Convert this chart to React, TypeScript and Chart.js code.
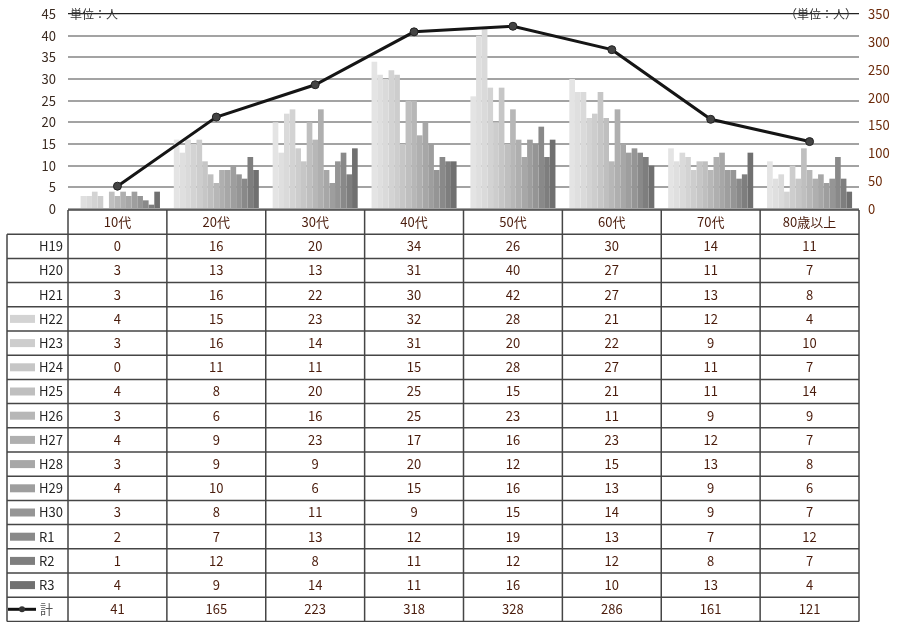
import React, { useEffect, useRef } from "react";
import { Chart, registerables } from "chart.js";

Chart.register(...registerables);

const categories = ["10代", "20代", "30代", "40代", "50代", "60代", "70代", "80歳以上"];
const seriesNames = ["H19", "H20", "H21", "H22", "H23", "H24", "H25", "H26", "H27", "H28", "H29", "H30", "R1", "R2", "R3"];

const h19 = [0, 16, 20, 34, 26, 30, 14, 11];
const h20 = [3, 13, 13, 31, 40, 27, 11, 7];
const h21 = [3, 16, 22, 30, 42, 27, 13, 8];
const h22 = [4, 15, 23, 32, 28, 21, 12, 4];
const h23 = [3, 16, 14, 31, 20, 22, 9, 10];
const h24 = [0, 11, 11, 15, 28, 27, 11, 7];
const h25 = [4, 8, 20, 25, 15, 21, 11, 14];
const h26 = [3, 6, 16, 25, 23, 11, 9, 9];
const h27 = [4, 9, 23, 17, 16, 23, 12, 7];
const h28 = [3, 9, 9, 20, 12, 15, 13, 8];
const h29 = [4, 10, 6, 15, 16, 13, 9, 6];
const h30 = [3, 8, 11, 9, 15, 14, 9, 7];
const r1 = [2, 7, 13, 12, 19, 13, 7, 12];
const r2 = [1, 12, 8, 11, 12, 12, 8, 7];
const r3 = [4, 9, 14, 11, 16, 10, 13, 4];
const totals = [41, 165, 223, 318, 328, 286, 161, 121];
const totalName = "計";

const seriesValues = [h19, h20, h21, h22, h23, h24, h25, h26, h27, h28, h29, h30, r1, r2, r3];
const seriesColors = [
  "#e4e4e4", "#dfdfdf", "#dadada", "#d3d3d3", "#cdcdcd", "#c6c6c6", "#bfbfbf", "#b7b7b7",
  "#afafaf", "#a7a7a7", "#9e9e9e", "#959595", "#898989", "#7e7e7e", "#707070",
];
const swatchVisible = [false, false, false, true, true, true, true, true, true, true, true, true, true, true, true];

const FONT = '"Noto Sans CJK JP", "Noto Sans", sans-serif';
const TEXT_COLOR = "#4a1c0c";

const tablePlugin = {
  id: "dataTable",
  afterDraw(chart: any) {
    const ctx = chart.ctx;
    const x = chart.scales.x;
    const area = chart.chartArea;
    const half = (x.getPixelForValue(1) - x.getPixelForValue(0)) / 2;
    const colLeft = x.getPixelForValue(0) - half;
    const colRight = x.getPixelForValue(categories.length - 1) + half;
    const tableLeft = 7;
    const top = area.bottom + 1;
    const rowH = 24.2;
    const nRows = seriesNames.length + 1;
    const bottom = top + rowH * (nRows + 1);

    ctx.save();
    ctx.strokeStyle = "#454545";
    ctx.lineWidth = 1.5;
    ctx.beginPath();
    ctx.moveTo(colLeft, top);
    ctx.lineTo(colRight, top);
    for (let r = 1; r <= nRows + 1; r++) {
      const y = top + r * rowH;
      ctx.moveTo(tableLeft, y);
      ctx.lineTo(colRight, y);
    }
    ctx.moveTo(tableLeft, top + rowH);
    ctx.lineTo(tableLeft, bottom);
    for (let c = 0; c <= categories.length; c++) {
      const xx = colLeft + c * 2 * half;
      ctx.moveTo(xx, top);
      ctx.lineTo(xx, bottom);
    }
    ctx.stroke();

    ctx.font = `13px ${FONT}`;
    ctx.textBaseline = "middle";
    ctx.fillStyle = TEXT_COLOR;
    ctx.textAlign = "center";
    categories.forEach((c, i) => {
      ctx.fillText(c, x.getPixelForValue(i), top + rowH / 2);
    });

    seriesNames.forEach((name, s) => {
      const cy = top + rowH * (s + 1) + rowH / 2;
      if (swatchVisible[s]) {
        ctx.fillStyle = seriesColors[s];
        ctx.fillRect(10, cy - 4, 25, 8);
      }
      ctx.fillStyle = "#262626";
      ctx.textAlign = "left";
      ctx.fillText(name, 39, cy);
      ctx.fillStyle = TEXT_COLOR;
      ctx.textAlign = "center";
      seriesValues[s].forEach((v, i) => {
        ctx.fillText(String(v), x.getPixelForValue(i), cy);
      });
    });

    const ty = top + rowH * nRows + rowH / 2;
    ctx.strokeStyle = "#111";
    ctx.lineWidth = 3;
    ctx.beginPath();
    ctx.moveTo(8, ty);
    ctx.lineTo(36, ty);
    ctx.stroke();
    ctx.fillStyle = "#333";
    ctx.beginPath();
    ctx.arc(22, ty, 3, 0, Math.PI * 2);
    ctx.fill();
    ctx.fillStyle = "#555";
    ctx.textAlign = "left";
    ctx.fillText(totalName, 40, ty);
    ctx.fillStyle = TEXT_COLOR;
    ctx.textAlign = "center";
    totals.forEach((v, i) => {
      ctx.fillText(String(v), x.getPixelForValue(i), ty);
    });

    ctx.font = `12px ${FONT}`;
    ctx.fillStyle = "#333";
    ctx.textAlign = "left";
    ctx.fillText("単位：人", 70, area.top);
    ctx.textAlign = "right";
    ctx.fillText("（単位：人）", 857, area.top);
    ctx.restore();
  },
};

export default function App() {
  const ref = useRef<HTMLCanvasElement>(null);
  useEffect(() => {
    if (!ref.current) return;
    const datasets: any[] = [
      {
        type: "line",
        label: totalName,
        data: totals,
        yAxisID: "y1",
        borderColor: "#151515",
        borderWidth: 3,
        pointRadius: 4,
        pointBackgroundColor: "#444",
        pointBorderColor: "#222",
        pointBorderWidth: 1,
        order: 0,
      },
      ...seriesNames.map((name, s) => ({
        type: "bar",
        label: name,
        data: seriesValues[s],
        yAxisID: "y",
        backgroundColor: seriesColors[s],
        borderWidth: 0,
        categoryPercentage: 0.86,
        barPercentage: 1,
        order: 1,
      })),
    ];
    const chart = new Chart(ref.current, {
      type: "bar",
      data: { labels: categories, datasets },
      options: {
        responsive: false,
        animation: false,
        layout: { padding: { top: 14, bottom: 413, left: 0, right: 0 } },
        plugins: { legend: { display: false }, tooltip: { enabled: false }, title: { display: false } },
        scales: {
          x: { display: false },
          y: {
            position: "left",
            min: 0,
            max: 45,
            ticks: { stepSize: 5, padding: 12, color: "#3a2a20", font: { family: FONT, size: 13 } },
            grid: {
              drawTicks: false,
              color: (c: any) => (c.tick && c.tick.value === 45 ? "#222" : "#a3a3a3"),
              lineWidth: (c: any) => (c.tick && c.tick.value === 45 ? 1.2 : 2),
            },
            border: { display: false },
            afterFit: (s: any) => {
              s.width = 68;
              s.paddingTop = 0;
              s.paddingBottom = 0;
            },
          },
          y1: {
            position: "right",
            min: 0,
            max: 350,
            ticks: { stepSize: 50, padding: 9, color: "#6b2a0a", font: { family: FONT, size: 13 } },
            grid: { display: false, drawTicks: false },
            border: { display: false },
            afterFit: (s: any) => {
              s.width = 42;
              s.paddingTop = 0;
              s.paddingBottom = 0;
            },
          },
        },
      },
      plugins: [tablePlugin],
    });
    return () => chart.destroy();
  }, []);
  return (
    <div style={{ position: "absolute", left: 0, top: 0, width: 901, height: 622, background: "#fff" }}>
      <canvas ref={ref} width={901} height={622} style={{ display: "block" }} />
    </div>
  );
}
